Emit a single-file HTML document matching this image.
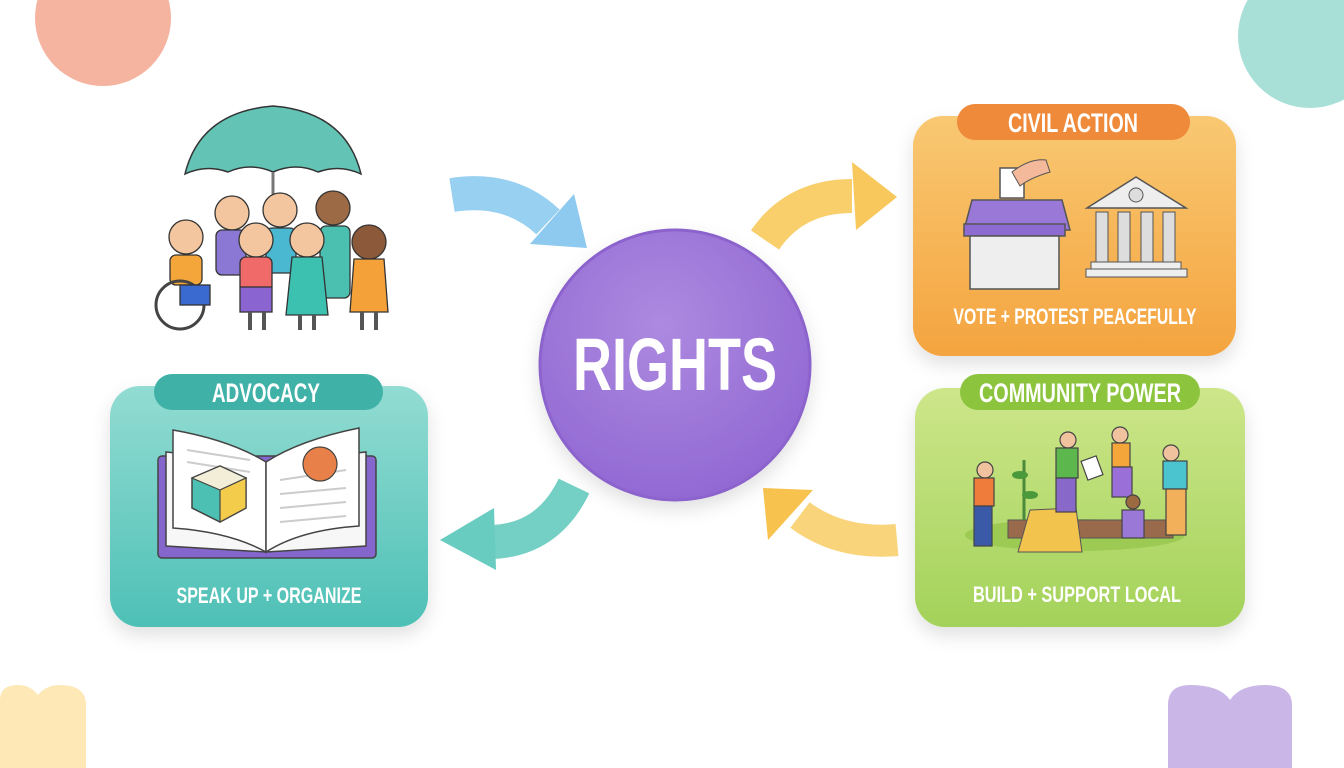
<!DOCTYPE html>
<html><head><meta charset="utf-8"><style>
html,body{margin:0;padding:0;background:#fff;width:1344px;height:768px;overflow:hidden}
svg{display:block}
text{font-family:"Liberation Sans Narrow","Liberation Sans",sans-serif;font-weight:bold;fill:#fff}
</style></head><body>
<svg width="1344" height="768" viewBox="0 0 1344 768">
<defs>
<linearGradient id="go" x1="0" y1="0" x2="0" y2="1"><stop offset="0" stop-color="#f9c872"/><stop offset="1" stop-color="#f4a43f"/></linearGradient>
<linearGradient id="gg" x1="0" y1="0" x2="0" y2="1"><stop offset="0" stop-color="#cde68a"/><stop offset="1" stop-color="#a3d25a"/></linearGradient>
<linearGradient id="gt" x1="0" y1="0" x2="0" y2="1"><stop offset="0" stop-color="#92dcd2"/><stop offset="1" stop-color="#4ec0b6"/></linearGradient>
<radialGradient id="gp" cx="0.45" cy="0.35" r="0.7"><stop offset="0" stop-color="#ad8ae0"/><stop offset="1" stop-color="#9066d2"/></radialGradient>
<filter id="sh" x="-20%" y="-20%" width="140%" height="150%"><feDropShadow dx="0" dy="8" stdDeviation="9" flood-color="#000" flood-opacity="0.12"/></filter>
</defs>
<circle cx="103" cy="18" r="68" fill="#f5b4a0"/>
<circle cx="1310" cy="36" r="72" fill="#a8e0d8"/>
<path d="M0 768 V700 Q0 685 18 685 Q30 685 38 695 Q46 685 60 685 Q86 685 86 705 V768Z" fill="#fde8b6"/>
<path d="M1168 768 V705 Q1168 685 1190 685 Q1220 685 1230 700 Q1240 685 1265 685 Q1292 685 1292 705 V768Z" fill="#cbb6e8"/>

<g fill="none" stroke-width="34">
<path d="M452 195 Q510 186 548 222" stroke="#97d0f0"/>
<path d="M765 240 Q795 196 852 196" stroke="#f9cf6c"/>
<path d="M800 515 Q840 545 897 540" stroke-width="32" stroke="#f9d47a"/>
<path d="M574 486 Q548 540 492 542" stroke="#74d0c5"/>
</g>
<polygon points="530,244 574,194 587,248" fill="#8ec9ef"/>
<polygon points="852,162 897,197 856,230" fill="#f8c85c"/>
<polygon points="763,488 813,490 768,540" fill="#f8c24e"/>
<polygon points="440,540 494,508 496,570" fill="#68ccc0"/>

<circle cx="675" cy="365" r="135" fill="url(#gp)" stroke="#8c63cc" stroke-width="3" filter="url(#sh)"/>
<text x="675" y="390" text-anchor="middle" font-size="74" textLength="204" lengthAdjust="spacingAndGlyphs">RIGHTS</text>

<rect x="913" y="116" width="323" height="240" rx="30" fill="url(#go)" filter="url(#sh)"/>
<rect x="957" y="104" width="233" height="36" rx="18" fill="#ef8a3a"/>
<text x="1073" y="132" text-anchor="middle" font-size="27" textLength="130" lengthAdjust="spacingAndGlyphs">CIVIL ACTION</text>
<path d="M964 230 L972 200 L1062 200 L1070 230 Z" fill="#9a78d8" stroke="#555" stroke-width="1.5"/>
<rect x="964" y="224" width="101" height="12" fill="#8e6bd0" stroke="#555" stroke-width="1.5"/>
<rect x="970" y="236" width="89" height="53" fill="#eeeeee" stroke="#555" stroke-width="1.5"/>
<rect x="1000" y="168" width="24" height="30" fill="#fff" stroke="#555" stroke-width="1.5"/>
<path d="M1012 172 Q1030 158 1046 160 L1050 172 Q1030 178 1020 186Z" fill="#f4b89a" stroke="#555"/>
<polygon points="1136,177 1087,208 1186,208" fill="#eee" stroke="#555" stroke-width="1.5"/>
<circle cx="1136" cy="195" r="7" fill="#ddd" stroke="#555"/>
<rect x="1096" y="212" width="12" height="50" fill="#ddd" stroke="#555"/><rect x="1118" y="212" width="12" height="50" fill="#ddd" stroke="#555"/><rect x="1141" y="212" width="12" height="50" fill="#ddd" stroke="#555"/><rect x="1163" y="212" width="12" height="50" fill="#ddd" stroke="#555"/>
<rect x="1091" y="262" width="90" height="7" fill="#eee" stroke="#555"/><rect x="1086" y="269" width="101" height="8" fill="#eee" stroke="#555"/>
<text x="1075" y="324" text-anchor="middle" font-size="22" textLength="243" lengthAdjust="spacingAndGlyphs">VOTE + PROTEST PEACEFULLY</text>

<rect x="915" y="388" width="330" height="239" rx="30" fill="url(#gg)" filter="url(#sh)"/>
<rect x="960" y="374" width="240" height="36" rx="18" fill="#8cc43e"/>
<text x="1080" y="402" text-anchor="middle" font-size="27" textLength="202" lengthAdjust="spacingAndGlyphs">COMMUNITY POWER</text>
<ellipse cx="1075" cy="535" rx="110" ry="16" fill="#9cca52"/>
<rect x="1008" y="520" width="165" height="18" fill="#9a6a4c" stroke="#555"/>
<polygon points="1030,510 1076,508 1082,552 1018,552" fill="#f2c44e" stroke="#555"/>
<g stroke="#444" stroke-width="1.2">
<circle cx="985" cy="470" r="8" fill="#f1c29e"/><rect x="974" y="478" width="20" height="28" fill="#f07c3c"/><rect x="974" y="506" width="18" height="40" fill="#3a5aa8"/>
<circle cx="1068" cy="440" r="8" fill="#f1c29e"/><rect x="1056" y="448" width="22" height="30" fill="#5cb84c"/><rect x="1056" y="478" width="20" height="34" fill="#8868c8"/>
<circle cx="1120" cy="435" r="8" fill="#f1c29e"/><rect x="1112" y="443" width="18" height="24" fill="#f4a63a"/><rect x="1112" y="467" width="20" height="30" fill="#9a70d8"/>
<circle cx="1171" cy="453" r="8" fill="#f1c29e"/><rect x="1163" y="461" width="24" height="28" fill="#4cc4d0"/><rect x="1166" y="489" width="20" height="46" fill="#f2b05a"/>
<rect x="1084" y="458" width="16" height="20" fill="#fff" transform="rotate(-20 1092 468)"/>
<circle cx="1133" cy="502" r="7" fill="#9b6a40"/><rect x="1122" y="510" width="22" height="28" fill="#9a78d8"/>
</g>
<path d="M1024 520 V460" stroke="#4a8a3a" stroke-width="3"/><ellipse cx="1020" cy="475" rx="8" ry="4" fill="#4a9a3c"/><ellipse cx="1030" cy="495" rx="8" ry="4" fill="#4a9a3c"/>
<text x="1077" y="602" text-anchor="middle" font-size="22" textLength="208" lengthAdjust="spacingAndGlyphs">BUILD + SUPPORT LOCAL</text>

<rect x="110" y="386" width="318" height="241" rx="30" fill="url(#gt)" filter="url(#sh)"/>
<rect x="154" y="374" width="229" height="36" rx="18" fill="#3fb1a7"/>
<text x="266" y="402" text-anchor="middle" font-size="27" textLength="108" lengthAdjust="spacingAndGlyphs">ADVOCACY</text>
<rect x="158" y="456" width="218" height="102" rx="4" fill="#8466cc" stroke="#444" stroke-width="1.5"/>
<path d="M166 452 L266 462 L266 552 L166 546Z" fill="#f7f7f7" stroke="#444" stroke-width="1.5"/>
<path d="M266 462 L366 452 L366 546 L266 552Z" fill="#f7f7f7" stroke="#444" stroke-width="1.5"/>
<path d="M173 430 Q230 440 266 462 L266 552 Q230 532 173 528Z" fill="#fff" stroke="#444" stroke-width="1.5"/>
<path d="M266 462 Q300 440 359 428 L359 526 Q300 530 266 552Z" fill="#fff" stroke="#444" stroke-width="1.5"/>
<g stroke="#ccc" stroke-width="2"><line x1="187" y1="450" x2="250" y2="460"/><line x1="187" y1="462" x2="250" y2="472"/><line x1="280" y1="480" x2="346" y2="470"/><line x1="280" y1="494" x2="346" y2="488"/><line x1="280" y1="508" x2="346" y2="502"/><line x1="280" y1="522" x2="346" y2="516"/></g>
<polygon points="192,478 220,466 246,478 246,508 220,522 192,508" fill="#4cc0b2" stroke="#444" stroke-width="1.5"/>
<polygon points="192,478 220,466 246,478 220,490" fill="#f2eed8" stroke="#444" stroke-width="1.2"/>
<polygon points="220,490 246,478 246,508 220,522" fill="#f4cc4c" stroke="#444" stroke-width="1.2"/>
<circle cx="320" cy="464" r="17" fill="#e8804a" stroke="#444" stroke-width="1.2"/>
<text x="269" y="603" text-anchor="middle" font-size="22" textLength="185" lengthAdjust="spacingAndGlyphs">SPEAK UP + ORGANIZE</text>

<path d="M185 174 Q200 112 273 106 Q346 112 361 174 Q340 164 318 172 Q296 162 273 172 Q250 162 228 172 Q206 164 185 174Z" fill="#63c4b6" stroke="#333" stroke-width="1.5"/>
<line x1="273" y1="172" x2="273" y2="198" stroke="#777" stroke-width="3"/>
<g stroke="#333" stroke-width="1.3">
<circle cx="232" cy="213" r="17" fill="#f3c6a0"/><rect x="216" y="230" width="30" height="45" rx="6" fill="#8a78d4"/>
<circle cx="280" cy="210" r="17" fill="#f3c6a0"/><rect x="266" y="228" width="30" height="45" rx="6" fill="#4ab8d0"/>
<circle cx="333" cy="208" r="17" fill="#9c6a45"/><rect x="320" y="226" width="30" height="72" rx="6" fill="#4cc0b0"/>
<circle cx="186" cy="237" r="17" fill="#f3c6a0"/><rect x="170" y="255" width="32" height="30" rx="6" fill="#f5a63a"/>
<circle cx="180" cy="305" r="24" fill="none" stroke="#444" stroke-width="3"/><rect x="180" y="285" width="30" height="20" fill="#3a6ad0"/>
<circle cx="256" cy="240" r="17" fill="#f3c6a0"/><rect x="240" y="257" width="32" height="35" rx="6" fill="#f06a6a"/><rect x="240" y="287" width="32" height="25" fill="#8a64d0"/>
<circle cx="307" cy="240" r="17" fill="#f3c6a0"/><path d="M292 257 H322 L328 315 H286Z" fill="#3cc0b0"/>
<circle cx="369" cy="242" r="17" fill="#8c5a3a"/><path d="M354 259 H384 L388 312 H350Z" fill="#f5a13a"/>
</g>
<g stroke="#555" stroke-width="4"><line x1="250" y1="312" x2="250" y2="330"/><line x1="264" y1="312" x2="264" y2="330"/><line x1="300" y1="315" x2="300" y2="330"/><line x1="314" y1="315" x2="314" y2="330"/><line x1="362" y1="312" x2="362" y2="330"/><line x1="376" y1="312" x2="376" y2="330"/></g>
</svg>
</body></html>
